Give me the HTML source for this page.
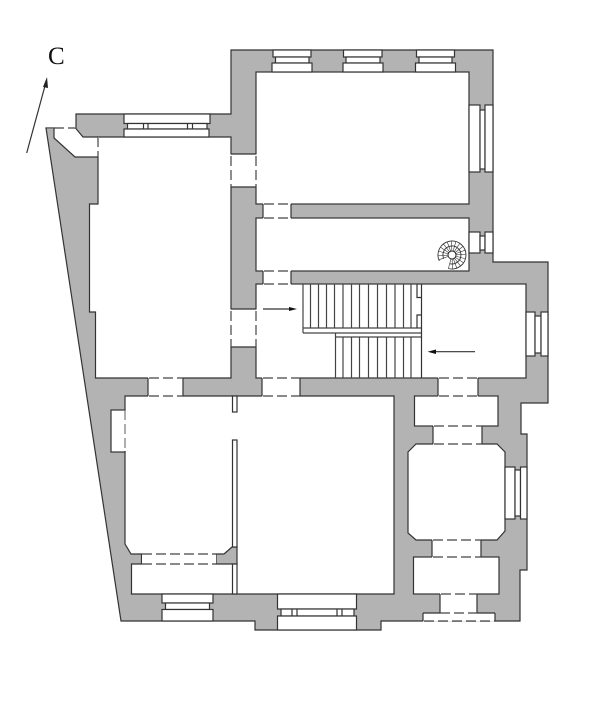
<!DOCTYPE html>
<html><head><meta charset="utf-8"><style>
html,body{margin:0;padding:0;background:#fff}
svg{display:block}
.o{fill:#b3b3b3;stroke:#333;stroke-width:1.2}
.r{fill:#fff;stroke:#333;stroke-width:1.2}
.w{fill:#fff;stroke:none}
.s{fill:none;stroke:#333;stroke-width:1.2}
.d{fill:none;stroke:#444;stroke-width:1.2;stroke-dasharray:10 4}
.t{fill:none;stroke:#444;stroke-width:1.2}
.z{stroke:#333;stroke-width:.6;fill:none}
</style></head><body>
<svg width="600" height="706" viewBox="0 0 600 706" xmlns="http://www.w3.org/2000/svg">
<text x="48" y="64" font-family="'Liberation Serif',serif" font-size="25" fill="#111">C</text>
<path class="s" d="M26.7,153 L45.5,84"/>
<path d="M47,77 L43,87 L48,88 Z" fill="#222"/>

<path class="o" d="M46,128 H76 V114 H231 V50 H493 V262 H548 V403 H521 V434 H527 V570 H520 V621 H381 V630 H255 V621 H121 Z"/>

<!-- rooms -->
<path class="r" d="M98,137 H231 V378 H95.5 V312 H89.5 V204 H98 Z"/>
<rect class="r" x="256" y="72" width="213" height="132"/>
<rect class="r" x="256" y="218" width="213" height="53"/>
<rect class="r" x="256" y="284" width="270" height="94"/>
<path class="r" d="M125,396 H394 V594 H131.5 V564 H141.5 V554 H131 L125,544 Z"/>
<path class="o" d="M216,554 H224 L232,547 H237 V564 H216 Z"/>
<rect class="r" x="232.5" y="396" width="4.5" height="16"/>
<rect class="r" x="232.5" y="440" width="4.5" height="107"/>
<rect class="r" x="232.5" y="564" width="4.5" height="30"/>
<rect class="r" x="414.5" y="396" width="83.5" height="30"/>
<path class="r" d="M416,444 H497 L505,452 V531 L497,540 H416 L408,533 V452 Z"/>
<rect class="r" x="413.5" y="557" width="85.5" height="37"/>
<rect class="r" x="111" y="410" width="14" height="42"/>

<!-- entrance passage -->
<path class="w" d="M46,127 H75.5 L83,137 H99 V157 H75 L54,138 V129 H47 Z"/>
<path class="s" d="M46,128 H54 V138 L75,157 H98 M75.5,128 L83,137 H98"/>
<path class="d" d="M54,128 H76"/>
<path class="d" d="M98,137 V157" stroke-dasharray="6 3"/>

<!-- doors -->
<rect class="w" x="230" y="154.5" width="27" height="32"/>
<path class="s" d="M231,154 H256 M231,187 H256"/>
<path class="d" d="M231,156 V187 M256,156 V187"/>
<rect class="w" x="263" y="203" width="28" height="16"/>
<path class="s" d="M263,204 V218 M291,204 V218"/>
<path class="d" d="M264,204 H291 M264,218 H291"/>
<rect class="w" x="263" y="270" width="28" height="15"/>
<path class="s" d="M263,271 V284 M291,271 V284"/>
<path class="d" d="M264,271 H291 M264,284 H291"/>
<rect class="w" x="230" y="309.5" width="27" height="37"/>
<path class="s" d="M231,309 H256 M231,347 H256"/>
<path class="d" d="M231,311 V347 M256,311 V347"/>
<rect class="w" x="148" y="377" width="35" height="20"/>
<path class="s" d="M148,378 V396 M183,378 V396"/>
<path class="d" d="M149,378 H183 M149,396 H183"/>
<rect class="w" x="262" y="377" width="38" height="20"/>
<path class="s" d="M262,378 V396 M300,378 V396"/>
<path class="d" d="M263,378 H300 M263,396 H300"/>
<rect class="w" x="438" y="377" width="40" height="20"/>
<path class="s" d="M438,378 V396 M478,378 V396"/>
<path class="d" d="M439,378 H478 M439,396 H478"/>
<rect class="w" x="433" y="425" width="49" height="20"/>
<path class="s" d="M433,426 V444 M482,426 V444"/>
<path class="d" d="M434,426 H482 M434,444 H482"/>
<rect class="w" x="432" y="539" width="49" height="19"/>
<path class="s" d="M432,540 V557 M481,540 V557"/>
<path class="d" d="M433,540 H481 M433,557 H481"/>
<rect class="w" x="142" y="553.5" width="74" height="11"/>
<path class="d" d="M142,554 H216 M142,564 H216"/>
<rect class="w" x="440" y="593" width="37" height="21"/>
<path class="s" d="M440,594 V613 M477,594 V613"/>
<path class="d" d="M441,594 H477"/>
<rect class="w" x="423" y="613" width="72" height="8.5"/>
<path class="s" d="M423,613 V621 M495,613 V621 M423,613 H440 M477,613 H495"/>
<path class="d" d="M440,613 H477 M424,621 H495" stroke-dasharray="8 3"/>
<rect class="w" x="124" y="411" width="2" height="40"/>
<path class="d" d="M125,410 V452" style="stroke:#777"/>

<!-- top windows -->
<rect class="r" x="273" y="50" width="38" height="7"/><rect class="r" x="275.5" y="57" width="33.5" height="6"/><rect class="r" x="272" y="63" width="40" height="9"/>
<rect class="r" x="343.5" y="50" width="38.5" height="7"/><rect class="r" x="346" y="57" width="34" height="6"/><rect class="r" x="343" y="63" width="40" height="9"/>
<rect class="r" x="416.5" y="50" width="38" height="7"/><rect class="r" x="419" y="57" width="33" height="6"/><rect class="r" x="415.5" y="63" width="40" height="9"/>

<!-- right windows -->
<rect class="r" x="469" y="105" width="11" height="67"/><rect class="r" x="480" y="110" width="5" height="59"/><rect class="r" x="485" y="105" width="8" height="67"/>
<rect class="r" x="469" y="232" width="11" height="21"/><rect class="r" x="480" y="236" width="5" height="14"/><rect class="r" x="485" y="232" width="8" height="21"/>
<rect class="r" x="526" y="312" width="9" height="44"/><rect class="r" x="535" y="316" width="6" height="37"/><rect class="r" x="541" y="312" width="7" height="44"/>
<rect class="r" x="505" y="467" width="10" height="52"/><rect class="r" x="515" y="470" width="5.5" height="46"/><rect class="r" x="520.5" y="467" width="6.5" height="52"/>

<!-- top-left window -->
<rect class="r" x="124" y="114" width="86" height="9.5"/>
<rect class="r" x="127.5" y="123.5" width="79.5" height="5.5"/>
<rect class="r" x="124" y="129" width="85" height="8"/>
<path class="s" d="M143.5,123.5 V129 M148,123.5 V129 M187.5,123.5 V129 M192.5,123.5 V129"/>

<!-- bottom windows -->
<rect class="r" x="162" y="594" width="51" height="9"/><rect class="r" x="165.5" y="603" width="44" height="6.5"/><rect class="r" x="162" y="609.5" width="51" height="11.5"/>
<rect class="r" x="277.5" y="594" width="79" height="15"/><rect class="r" x="281" y="609" width="73" height="7"/><rect class="r" x="277.5" y="616" width="79" height="14"/>
<path class="s" d="M292,609 V616 M297,609 V616 M337,609 V616 M342,609 V616"/>

<!-- stairs -->
<path class="t" d="M303,284 V333 M310.5,284 V328 M318.5,284 V328 M326.5,284 V328 M334.5,284 V328 M343,284 V328 M351.5,284 V328 M359.5,284 V328 M368.5,284 V328 M377.5,284 V328 M386.5,284 V328 M395,284 V328 M403.5,284 V328 M411,284 V328"/>
<path class="t" d="M303,328 H421.5 M303,333 H421.5 M335.5,337 H421.5"/>
<path class="t" d="M335.5,333 V378 M343,337 V378 M351.5,337 V378 M359.5,337 V378 M368.5,337 V378 M377.5,337 V378 M386.5,337 V378 M395,337 V378 M403.5,337 V378 M411,337 V378"/>
<path class="s" d="M421.5,284 V378 M417,284 V297.5 H421.5 M417,328 V315 H421.5"/>

<!-- arrows -->
<path class="s" d="M263,309 H292"/><path d="M297,309 L289,307 V311 Z" fill="#111"/>
<path class="s" d="M475,351.7 H433"/><path d="M427.5,351.7 L436,349.5 V354 Z" fill="#111"/>

<!-- spiral stair -->
<g transform="translate(452,255)">
<path class="z" style="stroke-width:.9" d="M-12.7,5.9 A14,14 0 1 1 -3.6,13.5 M-8.2,3.8 A9,9 0 1 1 -2.3,8.7"/>
<g class="z">
<line y1="-4" y2="-14" transform="rotate(250)"/><line y1="-4" y2="-14" transform="rotate(268)"/><line y1="-4" y2="-14" transform="rotate(286)"/><line y1="-4" y2="-14" transform="rotate(304)"/><line y1="-4" y2="-14" transform="rotate(322)"/><line y1="-4" y2="-14" transform="rotate(340)"/><line y1="-4" y2="-14" transform="rotate(358)"/><line y1="-4" y2="-14" transform="rotate(16)"/><line y1="-4" y2="-14" transform="rotate(34)"/><line y1="-4" y2="-14" transform="rotate(52)"/><line y1="-4" y2="-14" transform="rotate(70)"/><line y1="-4" y2="-14" transform="rotate(88)"/><line y1="-4" y2="-14" transform="rotate(106)"/><line y1="-4" y2="-14" transform="rotate(124)"/><line y1="-4" y2="-14" transform="rotate(142)"/><line y1="-4" y2="-14" transform="rotate(160)"/><line y1="-4" y2="-14" transform="rotate(178)"/><line y1="-4" y2="-14" transform="rotate(195)"/>
</g>
<circle r="4" fill="#fff" stroke="#222" stroke-width="1"/>
</g>
</svg>
</body></html>
